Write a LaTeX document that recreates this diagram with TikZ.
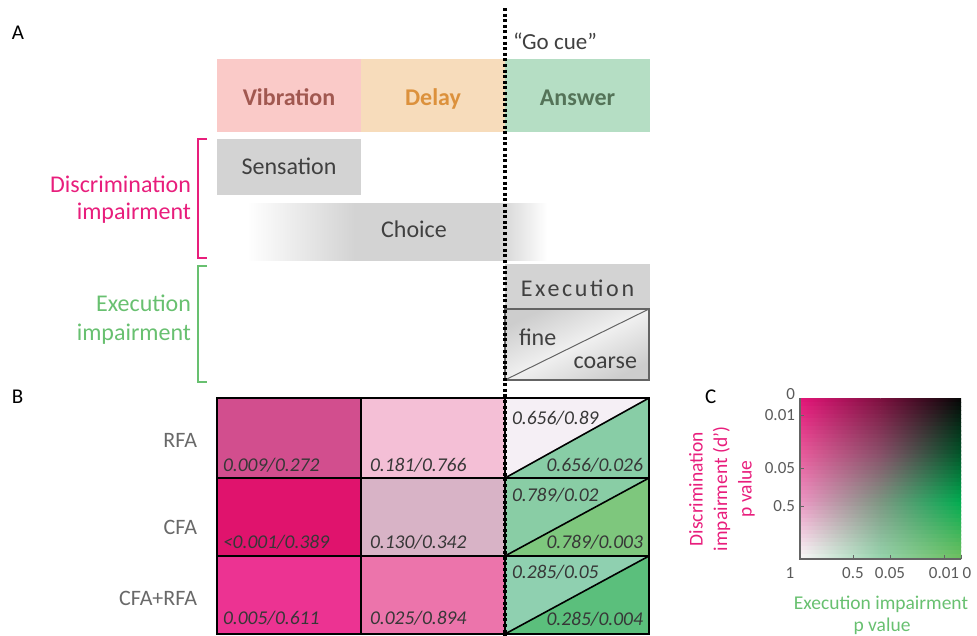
\documentclass[tikz,border=0pt]{standalone}
\usepackage{fontspec}
\setmainfont{Carlito}
\newcommand\txtsize[2]{\fontsize{#1pt}{#2pt}\selectfont}
% piecewise-linear channel value over t in [0,1] with knots 0, .35, .65, 1
\newcommand\chan[6]{%
  \pgfmathparse{#1<0.35 ? #2+(#3-#2)*#1/0.35 : (#1<0.65 ? #3+(#4-#3)*(#1-0.35)/0.3 : #4+(#5-#4)*(#1-0.65)/0.35)}%
  \pgfmathtruncatemacro#6{round(\pgfmathresult)}}

\definecolor{vibfill}{RGB}{250,202,200}
\definecolor{vibtxt}{RGB}{161,88,80}
\definecolor{delfill}{RGB}{247,220,187}
\definecolor{deltxt}{RGB}{220,145,60}
\definecolor{ansfill}{RGB}{181,222,196}
\definecolor{anstxt}{RGB}{84,115,88}
\definecolor{boxgray}{RGB}{211,211,211}
\definecolor{inkgray}{RGB}{64,64,64}
\definecolor{magentaTxt}{RGB}{232,30,124}
\definecolor{greenTxt}{RGB}{104,192,112}
\definecolor{fcdark}{RGB}{205,205,205}
\definecolor{fclight}{RGB}{240,240,240}
\definecolor{fcedge}{RGB}{100,100,100}
\definecolor{numgray}{RGB}{55,55,55}
\definecolor{rowgray}{RGB}{105,105,105}
\definecolor{tickgray}{RGB}{90,90,90}
\definecolor{axisgray}{RGB}{100,100,100}
% table cells
\definecolor{rAa}{RGB}{210,78,142}
\definecolor{rAb}{RGB}{244,191,214}
\definecolor{rAu}{RGB}{245,239,245}
\definecolor{rAl}{RGB}{136,205,166}
\definecolor{rBa}{RGB}{224,19,109}
\definecolor{rBb}{RGB}{216,179,198}
\definecolor{rBu}{RGB}{137,205,165}
\definecolor{rBl}{RGB}{126,199,125}
\definecolor{rCa}{RGB}{236,51,146}
\definecolor{rCb}{RGB}{236,116,171}
\definecolor{rCu}{RGB}{143,208,176}
\definecolor{rCl}{RGB}{91,191,124}

% gray band that fades in on the left and out on the right
% (the path box is mapped onto 25bp..75bp)
\pgfdeclarehorizontalshading{choicefade}{100bp}{%
  color(0bp)=(white); color(25bp)=(white); color(33bp)=(white!55!boxgray);
  color(43bp)=(boxgray); color(67bp)=(boxgray); color(75bp)=(white); color(100bp)=(white)}

\tikzset{
  every node/.style={inner sep=0pt, outer sep=0pt},
  hdr/.style={font=\txtsize{24}{28}\bfseries, anchor=base},
  lab/.style={font=\txtsize{24}{28}, text=inkgray, anchor=base},
  side/.style={font=\txtsize{24}{28}, anchor=base east},
  num/.style={font=\txtsize{19.5}{23}\itshape, text=numgray},
  rowlab/.style={font=\txtsize{22}{26}, text=rowgray, anchor=base east},
  tick/.style={font=\txtsize{17}{20}, text=tickgray},
  panel/.style={font=\txtsize{21}{25}, anchor=base west},
  bracket/.style={line width=2pt},
  grid/.style={line width=1.6pt, black},
  cue/.style={line width=3.6pt, black, dash pattern=on 3pt off 2.6pt},
}

\begin{document}
\begin{tikzpicture}[x=1pt,y=-1pt]
\useasboundingbox (0,0) rectangle (977,635);

% ---------- panel A ----------
\node[panel] (lblA) at (12,39) {A};

% task phases
\fill[vibfill] (217,59) rectangle (361,132);
\fill[delfill] (361,59) rectangle (505,132);
\fill[ansfill] (505,59) rectangle (650,132);
\node[hdr, text=vibtxt] (vib) at (289,105.7) {Vibration};
\node[hdr, text=deltxt] (del) at (433,105.7) {Delay};
\node[hdr, text=anstxt] (ans) at (577.5,105.7) {Answer};

% processes
\fill[boxgray] (217,139) rectangle (361,195);
\node[lab] (sens) at (289,174) {Sensation};

\shade[shading=choicefade] (247,203) rectangle (547,260);
\node[lab] (choice) at (414,237.5) {Choice};

\fill[boxgray] (505,264) rectangle (650,309);
\node[lab, font=\txtsize{24}{28}\addfontfeature{LetterSpace=11}] (exec) at (577.5,296.7) {Execution};

\shade[top color=fcdark, bottom color=fcdark, middle color=fclight, shading angle=25.8] (505,309) rectangle (649,380);
\draw[fcedge, line width=1.6pt] (505,309) rectangle (649,380);
\draw[fcedge, line width=1pt] (505,380) -- (649,309);
\node[lab, anchor=base west] (fine) at (519,345) {fine};
\node[lab, anchor=base east] (coarse) at (637,368) {coarse};

% impairment groups
\draw[bracket, magentaTxt] (207,139) -| (198,258) -- (207,258);
\node[side, text=magentaTxt] (discA) at (191,192) {Discrimination};
\node[side, text=magentaTxt] (discB) at (191,219.5) {impairment};
\draw[bracket, greenTxt] (207,266) -| (198,382) -- (207,382);
\node[side, text=greenTxt] (execA) at (191,311.7) {Execution};
\node[side, text=greenTxt] (execB) at (191,340.7) {impairment};

\node[font=\txtsize{23}{27}, text=inkgray, anchor=base west] (gocue) at (513,49.5) {“Go cue”};

% ---------- panel B ----------
\node[panel] (lblB) at (12,403) {B};

\fill[rAa] (217,398) rectangle (361,478);
\fill[rAb] (361,398) rectangle (505,478);
\fill[rAu] (505,398) -- (649,398) -- (505,478) -- cycle;
\fill[rAl] (649,398) -- (649,478) -- (505,478) -- cycle;
\fill[rBa] (217,478) rectangle (361,556);
\fill[rBb] (361,478) rectangle (505,556);
\fill[rBu] (505,478) -- (649,478) -- (505,556) -- cycle;
\fill[rBl] (649,478) -- (649,556) -- (505,556) -- cycle;
\fill[rCa] (217,556) rectangle (361,634);
\fill[rCb] (361,556) rectangle (505,634);
\fill[rCu] (505,556) -- (649,556) -- (505,634) -- cycle;
\fill[rCl] (649,556) -- (649,634) -- (505,634) -- cycle;

\draw[grid] (217,398) rectangle (649,634);
\draw[grid] (217,478) -- (649,478) (217,556) -- (649,556) (361,398) -- (361,634) (505,398) -- (505,634);
\draw[grid] (505,478) -- (649,398) (505,556) -- (649,478) (505,634) -- (649,556);

\node[rowlab] (rfa) at (197,447) {RFA};
\node[rowlab] (cfa) at (197,534) {CFA};
\node[rowlab] (both) at (197,605) {CFA+RFA};

\node[num, anchor=base west] (vA) at (223,471) {0.009/0.272};
\node[num, anchor=base west] (dA) at (370,471) {0.181/0.766};
\node[num, anchor=base west] (fA) at (512,424) {0.656/0.89};
\node[num, anchor=base east] (cA) at (643,471) {0.656/0.026};
\node[num, anchor=base west] (vB) at (223,548) {<0.001/0.389};
\node[num, anchor=base west] (dB) at (370,548) {0.130/0.342};
\node[num, anchor=base west] (fB) at (512,501) {0.789/0.02};
\node[num, anchor=base east] (cB) at (643,548) {0.789/0.003};
\node[num, anchor=base west] (vC) at (223,624) {0.005/0.611};
\node[num, anchor=base west] (dC) at (370,624) {0.025/0.894};
\node[num, anchor=base west] (fC) at (512,578) {0.285/0.05};
\node[num, anchor=base east] (cC) at (643,625) {0.285/0.004};

% go-cue marker across panels A and B
\coordinate (cueTop) at (505,8);
\coordinate (cueBot) at (505,636);
\draw[cue] (cueTop) -- (cueBot);

% ---------- panel C ----------
\node[panel] (lblC) at (705,403) {C};

\begin{scope}
  \clip (800,398) rectangle (961,559);
  \foreach \i in {0,...,39}{
    \pgfmathsetmacro\t{(\i+0.5)/40}
    \pgfmathsetmacro\ya{398+\i*161/40}
    \pgfmathsetmacro\yb{\ya+161/40+0.8}
    \chan{\t}{228}{232}{236}{248}\lr
    \chan{\t}{20}{90}{150}{248}\lg
    \chan{\t}{120}{155}{195}{248}\lb
    \chan{\t}{125}{135}{125}{150}\mr
    \chan{\t}{15}{80}{150}{212}\mg
    \chan{\t}{62}{105}{130}{172}\mb
    \chan{\t}{5}{0}{0}{110}\rr
    \chan{\t}{5}{85}{172}{190}\rg
    \chan{\t}{5}{40}{80}{95}\rb
    \definecolor{mapL}{RGB}{\lr,\lg,\lb}
    \definecolor{mapM}{RGB}{\mr,\mg,\mb}
    \definecolor{mapR}{RGB}{\rr,\rg,\rb}
    \shade[left color=mapL, right color=mapM] (800,\ya) rectangle (880.7,\yb);
    \shade[left color=mapM, right color=mapR] (880.3,\ya) rectangle (961,\yb);
  }
\end{scope}

\draw[axisgray, line width=1.2pt] (800,398) -- (800,559) -- (961,559);
\foreach \yy in {415,468,506} \draw[axisgray, line width=1pt] (800,\yy) -- (804,\yy);
\foreach \xx in {853,890,944,961} \draw[axisgray, line width=1pt] (\xx,559) -- (\xx,555);

\node[tick, anchor=base east] (yt0) at (795,399.5) {0};
\node[tick, anchor=base east] (yt1) at (795,420.5) {0.01};
\node[tick, anchor=base east] (yt2) at (795,473.5) {0.05};
\node[tick, anchor=base east] (yt3) at (795,511.5) {0.5};
\node[tick, anchor=base] (xt0) at (790,578) {1};
\node[tick, anchor=base] (xt1) at (853,578) {0.5};
\node[tick, anchor=base] (xt2) at (890,578) {0.05};
\node[tick, anchor=base] (xt3) at (944,578) {0.01};
\node[tick, anchor=base] (xt4) at (967,578) {0};

\node[rotate=90, align=center, font=\txtsize{19.5}{24.5}, text=magentaTxt] (ylab) at (722,489) {Discrimination\\impairment (d’)\\p value};
\node[font=\txtsize{19.5}{23}, text=greenTxt, anchor=base] (xlabA) at (881,609) {Execution impairment};
\node[font=\txtsize{19.5}{23}, text=greenTxt, anchor=base] (xlabB) at (882,631) {p value};
\end{tikzpicture}
\end{document}
